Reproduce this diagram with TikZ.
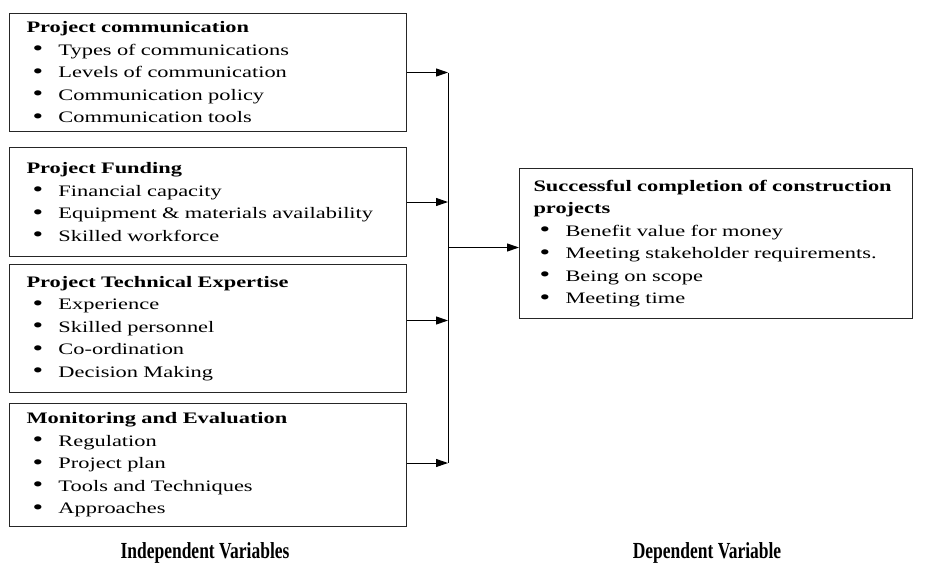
\documentclass[tikz,border=0pt]{standalone}
\usepackage{fontspec}
\setmainfont{Liberation Serif}[FakeStretch=1.4]
\newfontfamily\labelfont{Liberation Serif}[FakeStretch=0.76]
\usetikzlibrary{positioning}
\usetikzlibrary{arrows.meta}
\newcommand{\itm}[1]{\hspace*{6pt}\makebox[26pt][l]{\raisebox{-0.6pt}{\scalebox{1.35}{\textbullet}}}#1}

\begin{document}
\begin{tikzpicture}[x=1pt,y=-1pt,line width=1pt,>={Triangle[length=12pt,width=8pt]},
  varbox/.style={draw=black!85,anchor=north west,text width=363pt,inner xsep=17pt,align=left,font=\fontsize{16}{22.5}\selectfont},
  caption/.style={anchor=base,font=\labelfont\bfseries\fontsize{23}{23}\selectfont}]
  \useasboundingbox (0,0) rectangle (926,565);
  % independent variables
  \node[varbox,minimum height=118pt](comm) at (9,13) {\textbf{Project communication}\\
    \itm{Types of communications}\\ \itm{Levels of communication}\\
    \itm{Communication policy}\\ \itm{Communication tools}};
  \node[varbox,below=15pt of comm,minimum height=109pt](fund) {\textbf{Project Funding}\\
    \itm{Financial capacity}\\ \itm{Equipment \& materials availability}\\
    \itm{Skilled workforce}};
  \node[varbox,below=7pt of fund,minimum height=128pt](tech) {\textbf{Project Technical Expertise}\\
    \itm{Experience}\\ \itm{Skilled personnel}\\
    \itm{Co-ordination}\\ \itm{Decision Making}};
  \node[varbox,below=10pt of tech,minimum height=123pt](mon) {\textbf{Monitoring and Evaluation}\\
    \itm{Regulation}\\ \itm{Project plan}\\
    \itm{Tools and Techniques}\\ \itm{Approaches}};
  % dependent variable
  \node[varbox,text width=365pt,inner xsep=14pt,minimum height=150pt](outcome) at (519,168) {\textbf{Successful completion of construction}\\
    \textbf{projects}\\
    \itm{Benefit value for money}\\ \itm{Meeting stakeholder requirements.}\\
    \itm{Being on scope}\\ \itm{Meeting time}};
  \node[caption](indep) at (205,558) {Independent Variables};
  \node[caption](dep) at (707,558) {Dependent Variable};
  % arrows
  \coordinate (bustop) at ([xshift=41pt]comm.east);
  \coordinate (busbot) at ([xshift=41pt,yshift=2pt]mon.east);
  \draw (bustop)--(busbot);
  \draw[->] (comm.east)--(bustop);
  \draw[->] (fund.east)--(fund.east -| bustop);
  \draw[->] ([yshift=8pt]tech.east)--([yshift=8pt]tech.east -| bustop);
  \draw[->] ([yshift=2pt]mon.east)--(busbot);
  \draw[->] ([yshift=-4pt]outcome.west -| bustop)--([yshift=-4pt]outcome.west);
\end{tikzpicture}
\end{document}
